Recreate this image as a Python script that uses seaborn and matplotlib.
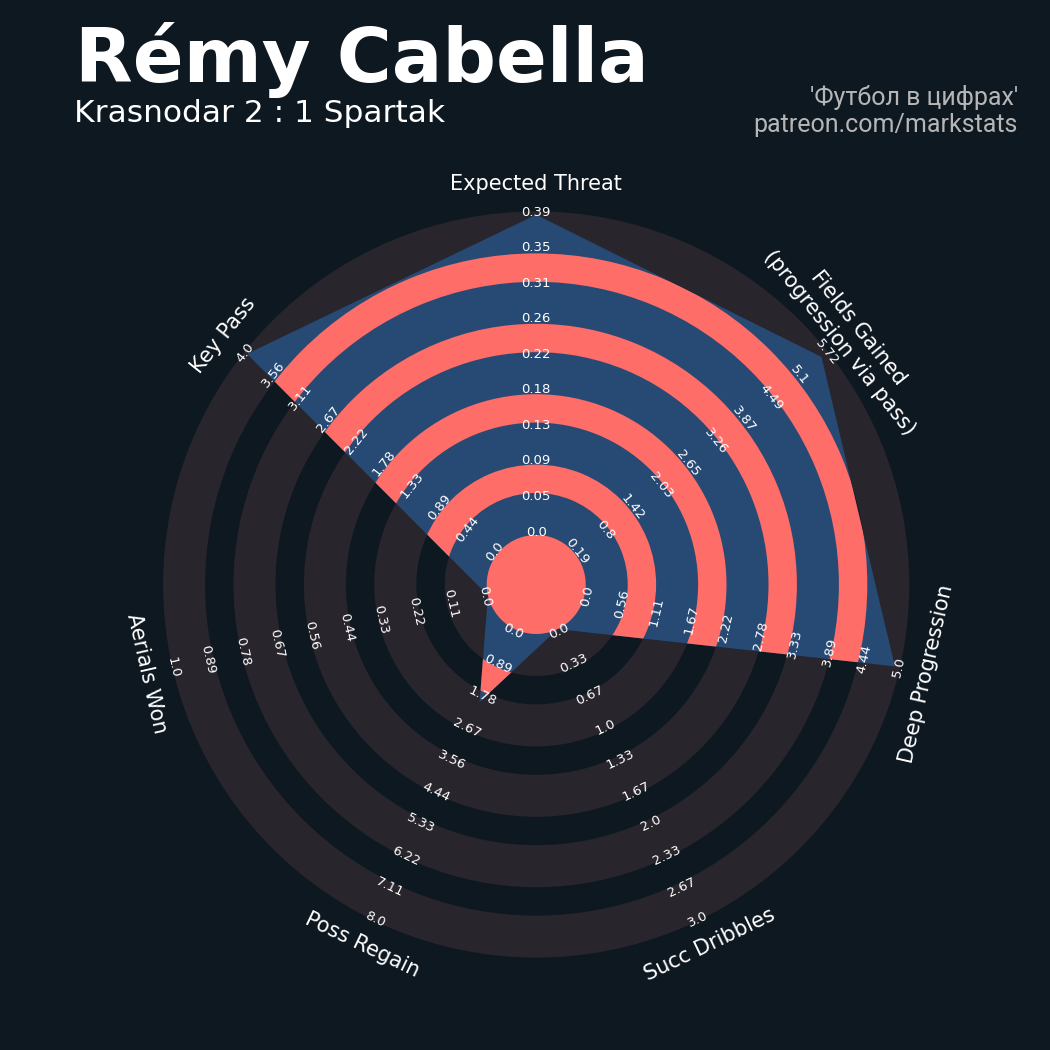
import numpy as np
import matplotlib
matplotlib.use("Agg")
import matplotlib.pyplot as plt
from matplotlib.patches import Polygon, Wedge, Circle
import seaborn as sns

# Radar data (clockwise from the top)
params = ['Expected Threat', 'Fields Gained\n(progression via pass)', 'Deep Progression',
          'Succ Dribbles', 'Poss Regain', 'Aerials Won', 'Key Pass']
low = [0.0045, 0.19, 0.0, 0.0, 0.0, 0.0, 0.0]
high = [0.394, 5.72, 5.0, 3.0, 8.0, 1.0, 4.0]
values = [0.39, 5.58, 4.92, 0.0, 2.0, 0.0, 3.96]

tick_labels = [
    ['0.0', '0.05', '0.09', '0.13', '0.18', '0.22', '0.26', '0.31', '0.35', '0.39'],
    ['0.19', '0.8', '1.42', '2.03', '2.65', '3.26', '3.87', '4.49', '5.1', '5.72'],
    ['0.0', '0.56', '1.11', '1.67', '2.22', '2.78', '3.33', '3.89', '4.44', '5.0'],
    ['0.0', '0.33', '0.67', '1.0', '1.33', '1.67', '2.0', '2.33', '2.67', '3.0'],
    ['0.0', '0.89', '1.78', '2.67', '3.56', '4.44', '5.33', '6.22', '7.11', '8.0'],
    ['0.0', '0.11', '0.22', '0.33', '0.44', '0.56', '0.67', '0.78', '0.89', '1.0'],
    ['0.0', '0.44', '0.89', '1.33', '1.78', '2.22', '2.67', '3.11', '3.56', '4.0'],
]

title = 'Rémy Cabella'
subtitle = 'Krasnodar 2 : 1 Spartak'
credit = "'Футбол в цифрах'\npatreon.com/markstats"

# Style
BG = '#0e1821'
RING = '#28252c'
BLUE = '#274a74'
RED = '#fe6d67'

sns.set_style('dark', {'axes.facecolor': BG, 'figure.facecolor': BG})
plt.rcParams['font.family'] = ['DejaVu Sans']

# ring geometry (axes units ~ pixels)
R0 = 49.5
GREY_W = 42.0
GAP_W = 28.4
N_RINGS = 5
R = R0 + N_RINGS * GREY_W + (N_RINGS - 1) * GAP_W

fig = plt.figure(figsize=(10.5, 10.5), dpi=100)
H = 430
cx, cy = 536.2, 584.5
ax = fig.add_axes([(cx - H) / 1050, (1050 - cy - H) / 1050, 2 * H / 1050, 2 * H / 1050])
ax.set_xlim(-H, H)
ax.set_ylim(-H, H)
ax.set_aspect('equal')
ax.axis('off')

n = len(params)
angles = np.deg2rad(90 - np.arange(n) * 360 / n)

# background rings
for k in range(N_RINGS):
    r_in = R0 + k * (GREY_W + GAP_W)
    ax.add_patch(Wedge((0, 0), r_in + GREY_W, 0, 360, width=GREY_W, fc=RING, ec='none', zorder=1))

# radar polygon
frac = (np.array(values) - np.array(low)) / (np.array(high) - np.array(low))
radii = R0 + frac * (R - R0)
verts = np.column_stack([radii * np.cos(angles), radii * np.sin(angles)])
poly = Polygon(verts, closed=True, fc=BLUE, ec='none', zorder=2)
ax.add_patch(poly)

# inner rings clipped to the radar
inner = [Circle((0, 0), R0, fc=RED, ec='none', zorder=3)]
for k in range(N_RINGS - 1):
    r_in = R0 + GREY_W + k * (GREY_W + GAP_W)
    inner.append(Wedge((0, 0), r_in + GAP_W, 0, 360, width=GAP_W, fc=RED, ec='none', zorder=3))
for p in inner:
    ax.add_patch(p)
    p.set_clip_path(poly)

# labels
label_r = np.linspace(R0 + 3, R - 1, 10)
for i, (a, name) in enumerate(zip(angles, params)):
    rot = np.rad2deg(a) - 90
    rot = rot % 360
    if 90 < rot < 270:
        rot -= 180
    for r, lab in zip(label_r, tick_labels[i]):
        ax.text(r * np.cos(a), r * np.sin(a), lab, rotation=rot, ha='center', va='center',
                fontsize=9.5, color='white', zorder=5)
    ax.text(400 * np.cos(a), 400 * np.sin(a), name, rotation=rot, ha='center', va='center',
            fontsize=15, color='white', zorder=5, multialignment='center')

# titles
fig.text(75 / 1050, 1 - 82 / 1050, title, fontsize=54, fontweight='bold', color='white', va='baseline')
fig.text(74 / 1050, 1 - 122 / 1050, subtitle, fontsize=22.5, color='white', va='baseline')
fig.text(1018 / 1050, 1 - 132 / 1050, credit, fontsize=18, color='#b6b6b6', ha='right',
         va='baseline', family='Roboto', linespacing=1.15, multialignment='right')

fig.savefig('out.png', dpi=100, facecolor=BG)
